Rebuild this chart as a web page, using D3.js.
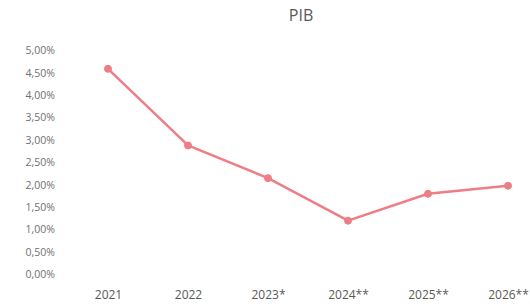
<!DOCTYPE html>
<html><head><meta charset="utf-8">
<script src="https://cdn.jsdelivr.net/npm/d3@7"></script>
<style>body{margin:0;background:#fff;} svg{display:block;}</style>
</head><body>
<svg id="c" width="530" height="304"></svg>
<script>
const categories = ["2021","2022","2023*","2024**","2025**","2026**"];
const pibValues = [4.58, 2.87, 2.14, 1.19, 1.79, 1.97];
const yTicks = [0,0.5,1,1.5,2,2.5,3,3.5,4,4.5,5];
const title = "PIB";

const svg = d3.select("#c");
const fontFam = "'Open Sans', 'Liberation Sans', sans-serif";
const x = d3.scalePoint().domain(categories).range([108, 508]);
const y = d3.scaleLinear().domain([0, 5]).range([274, 50]);
const fmt = v => v.toFixed(2).replace(".", ",") + "%";

const yAxis = svg.append("g").attr("transform", "translate(55,0)")
  .call(d3.axisLeft(y).tickValues(yTicks).tickFormat(fmt).tickSize(0).tickPadding(0));
yAxis.select(".domain").remove();
yAxis.selectAll("text").attr("fill", "#6f6f6f").attr("dy", "0.35em").style("font-family", fontFam).style("font-size", "10.5px");

const xAxis = svg.append("g").attr("transform", "translate(0,290)")
  .call(d3.axisBottom(x).tickSize(0).tickPadding(0));
xAxis.select(".domain").remove();
xAxis.selectAll("text").attr("fill", "#595959").style("font-family", fontFam).style("font-size", "12px");

svg.append("text").attr("x", 301).attr("y", 21).attr("text-anchor", "middle")
  .attr("fill", "#595959").style("font-family", fontFam).style("font-size", "16px").text(title);

const color = "#ee7d86";
const line = d3.line().x((d, i) => x(categories[i])).y(d => y(d));
svg.append("path").datum(pibValues).attr("d", line).attr("fill", "none")
  .attr("stroke", color).attr("stroke-width", 2.5).attr("stroke-linejoin", "round");
svg.selectAll("circle.pt").data(pibValues).enter().append("circle").attr("class", "pt")
  .attr("cx", (d, i) => x(categories[i])).attr("cy", d => y(d)).attr("r", 3.5)
  .attr("fill", color).attr("stroke", color);
</script>
</body></html>
